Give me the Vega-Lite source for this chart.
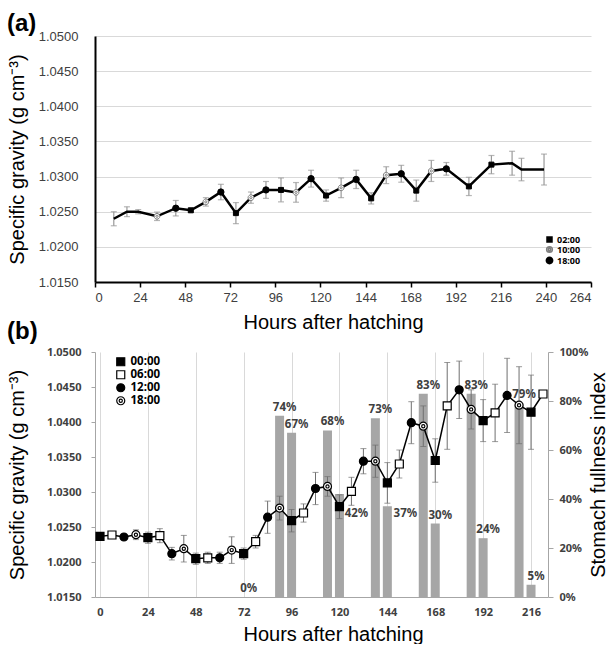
{
  "$schema": "https://vega.github.io/schema/vega-lite/v6.json",
  "padding": {"left": 6, "top": 12, "right": 0, "bottom": 0},
  "background": "white",
  "config": {"view": {"stroke": null}, "font": "Liberation Sans"},
  "bounds": "flush",
  "spacing": 70,
  "resolve": {
    "scale": {"shape": "independent", "fill": "independent", "stroke": "independent", "size": "independent"},
    "legend": {"shape": "independent", "fill": "independent", "stroke": "independent", "size": "independent"}
  },
  "datasets": {
    "a": [
      {"hour": 10, "sg": 1.0240, "err": 0.0010, "time": null},
      {"hour": 17, "sg": 1.0250, "err": 0.0007, "time": null},
      {"hour": 23, "sg": 1.0250, "err": 0.0003, "time": null},
      {"hour": 33, "sg": 1.02435, "err": 0.0006, "time": "10:00"},
      {"hour": 43, "sg": 1.0255, "err": 0.0011, "time": "18:00"},
      {"hour": 51, "sg": 1.0252, "err": 0.0003, "time": "02:00"},
      {"hour": 59, "sg": 1.0264, "err": 0.0006, "time": "10:00"},
      {"hour": 67, "sg": 1.0278, "err": 0.0011, "time": "18:00"},
      {"hour": 75, "sg": 1.0248, "err": 0.0015, "time": "02:00"},
      {"hour": 83, "sg": 1.0270, "err": 0.0008, "time": "10:00"},
      {"hour": 91, "sg": 1.0281, "err": 0.0012, "time": "18:00"},
      {"hour": 99, "sg": 1.0281, "err": 0.0017, "time": "02:00"},
      {"hour": 107, "sg": 1.02775, "err": 0.0014, "time": "10:00"},
      {"hour": 115, "sg": 1.0297, "err": 0.0012, "time": "18:00"},
      {"hour": 123, "sg": 1.0273, "err": 0.0008, "time": "02:00"},
      {"hour": 131, "sg": 1.0284, "err": 0.0014, "time": "10:00"},
      {"hour": 139, "sg": 1.0296, "err": 0.0013, "time": "18:00"},
      {"hour": 147, "sg": 1.0269, "err": 0.0008, "time": "02:00"},
      {"hour": 155, "sg": 1.0302, "err": 0.0012, "time": "10:00"},
      {"hour": 163, "sg": 1.0304, "err": 0.0012, "time": "18:00"},
      {"hour": 171, "sg": 1.0280, "err": 0.0015, "time": "02:00"},
      {"hour": 179, "sg": 1.0308, "err": 0.0015, "time": "10:00"},
      {"hour": 187, "sg": 1.0311, "err": 0.0009, "time": "18:00"},
      {"hour": 199, "sg": 1.0286, "err": 0.0013, "time": "02:00"},
      {"hour": 211, "sg": 1.0317, "err": 0.0013, "time": "02:00"},
      {"hour": 222, "sg": 1.0319, "err": 0.0017, "time": null},
      {"hour": 227, "sg": 1.0310, "err": 0.0016, "time": null},
      {"hour": 239, "sg": 1.0310, "err": 0.0022, "time": null}
    ],
    "b": [
      {"hour": 0, "sg": 1.02366, "err": 0.0003, "clock": "00:00"},
      {"hour": 6, "sg": 1.02386, "err": 0.0003, "clock": "06:00"},
      {"hour": 12, "sg": 1.02357, "err": 0.0003, "clock": "12:00"},
      {"hour": 18, "sg": 1.0239, "err": 0.0007, "clock": "18:00"},
      {"hour": 24, "sg": 1.02347, "err": 0.0008, "clock": "00:00"},
      {"hour": 30, "sg": 1.02376, "err": 0.0010, "clock": "06:00"},
      {"hour": 36, "sg": 1.02119, "err": 0.0009, "clock": "12:00"},
      {"hour": 42, "sg": 1.0219, "err": 0.0019, "clock": "18:00"},
      {"hour": 48, "sg": 1.02047, "err": 0.0008, "clock": "00:00"},
      {"hour": 54, "sg": 1.0206, "err": 0.0008, "clock": "06:00"},
      {"hour": 60, "sg": 1.0206, "err": 0.0008, "clock": "12:00"},
      {"hour": 66, "sg": 1.0217, "err": 0.0019, "clock": "18:00"},
      {"hour": 72, "sg": 1.0212, "err": 0.0008, "clock": "00:00"},
      {"hour": 78, "sg": 1.0229, "err": 0.0009, "clock": "06:00"},
      {"hour": 84, "sg": 1.0264, "err": 0.0023, "clock": "12:00"},
      {"hour": 90, "sg": 1.0277, "err": 0.0017, "clock": "18:00"},
      {"hour": 96, "sg": 1.0259, "err": 0.0016, "clock": "00:00"},
      {"hour": 102, "sg": 1.0270, "err": 0.0013, "clock": "06:00"},
      {"hour": 108, "sg": 1.0305, "err": 0.0023, "clock": "12:00"},
      {"hour": 114, "sg": 1.0308, "err": 0.0014, "clock": "18:00"},
      {"hour": 120, "sg": 1.0279, "err": 0.0017, "clock": "00:00"},
      {"hour": 126, "sg": 1.0301, "err": 0.0020, "clock": "06:00"},
      {"hour": 132, "sg": 1.0344, "err": 0.0018, "clock": "12:00"},
      {"hour": 138, "sg": 1.0344, "err": 0.0023, "clock": "18:00"},
      {"hour": 144, "sg": 1.0313, "err": 0.0029, "clock": "00:00"},
      {"hour": 150, "sg": 1.0340, "err": 0.0020, "clock": "06:00"},
      {"hour": 156, "sg": 1.0399, "err": 0.0030, "clock": "12:00"},
      {"hour": 162, "sg": 1.0394, "err": 0.0029, "clock": "18:00"},
      {"hour": 168, "sg": 1.0345, "err": 0.0031, "clock": "00:00"},
      {"hour": 174, "sg": 1.0423, "err": 0.0062, "clock": "06:00"},
      {"hour": 180, "sg": 1.0446, "err": 0.0041, "clock": "12:00"},
      {"hour": 186, "sg": 1.0418, "err": 0.0028, "clock": "18:00"},
      {"hour": 192, "sg": 1.0402, "err": 0.0030, "clock": "00:00"},
      {"hour": 198, "sg": 1.0413, "err": 0.0041, "clock": "06:00"},
      {"hour": 204, "sg": 1.0438, "err": 0.0053, "clock": "12:00"},
      {"hour": 210, "sg": 1.0424, "err": 0.0055, "clock": "18:00"},
      {"hour": 216, "sg": 1.0414, "err": 0.0053, "clock": "00:00"},
      {"hour": 222, "sg": 1.0440, "err": 0.0, "clock": "06:00"}
    ],
    "bars": [
      {"hour": 72, "pct": 0},
      {"hour": 90, "pct": 0.74},
      {"hour": 96, "pct": 0.67},
      {"hour": 114, "pct": 0.68},
      {"hour": 120, "pct": 0.42},
      {"hour": 138, "pct": 0.73},
      {"hour": 144, "pct": 0.37},
      {"hour": 162, "pct": 0.83},
      {"hour": 168, "pct": 0.30},
      {"hour": 186, "pct": 0.83},
      {"hour": 192, "pct": 0.24},
      {"hour": 210, "pct": 0.79},
      {"hour": 216, "pct": 0.05}
    ]
  },
  "vconcat": [
    {
      "width": 496,
      "height": 246,
      "title": {"text": "(a)", "anchor": "start", "frame": "bounds", "fontSize": 24, "fontWeight": "bold", "font": "Liberation Sans", "color": "black", "offset": -6},
      "data": {"name": "a"},
      "encoding": {
        "x": {"field": "hour", "type": "quantitative", "scale": {"domain": [0, 264], "nice": false},
          "axis": {"values": [0, 24, 48, 72, 96, 120, 144, 168, 192, 216, 240, 264], "title": "Hours after hatching", "grid": false,
            "domainColor": "black", "domainWidth": 2, "tickColor": "black", "tickWidth": 1.5, "tickSize": 5,
            "labelFont": "Liberation Sans", "labelFontSize": 13, "labelColor": "#404040", "labelPadding": 4,
            "titleFont": "Liberation Sans", "titleFontSize": 20, "titleFontWeight": "normal", "titleColor": "black", "titlePadding": 8, "titleX": 238}},
        "y": {"field": "sg", "type": "quantitative", "scale": {"domain": [1.015, 1.05], "nice": false, "zero": false},
          "axis": {"values": [1.015, 1.02, 1.025, 1.03, 1.035, 1.04, 1.045, 1.05], "format": ".4f", "title": "Specific gravity (g cm⁻³)",
            "grid": true, "gridColor": "#d9d9d9", "gridWidth": 1, "domainColor": "black", "domainWidth": 2, "ticks": false,
            "labelFont": "Liberation Sans", "labelFontSize": 13, "labelColor": "#404040", "labelPadding": 17,
            "titleFont": "Liberation Sans", "titleFontSize": 20, "titleFontWeight": "normal", "titleColor": "black", "titleX": -78, "titleBaseline": "middle"}}
      },
      "layer": [
        {"mark": {"type": "errorbar", "color": "#999999", "thickness": 1.2, "ticks": {"size": 6}},
         "encoding": {"yError": {"field": "err"}}},
        {"mark": {"type": "line", "color": "black", "strokeWidth": 2.5}, "encoding": {}},
        {"transform": [{"filter": "isValid(datum.time)"}],
         "mark": {"type": "point", "filled": true, "opacity": 1, "strokeWidth": 1},
         "encoding": {
           "shape": {"field": "time", "type": "nominal", "scale": {"domain": ["02:00", "10:00", "18:00"], "range": ["square", "M1,0A1,1,0,1,1,-1,0A1,1,0,1,1,1,0ZM0.4,0A0.4,0.4,0,1,1,-0.4,0A0.4,0.4,0,1,1,0.4,0Z", "circle"]},
             "legend": {"orient": "none", "legendX": 450, "legendY": 199, "title": null, "labelFont": "Noto Sans", "labelFontWeight": "bold", "labelFontSize": 9, "labelColor": "black", "rowPadding": -3, "labelOffset": 3}},
           "fill": {"field": "time", "type": "nominal", "scale": {"domain": ["02:00", "10:00", "18:00"], "range": ["black", "white", "black"]},
             "legend": {"orient": "none", "legendX": 450, "legendY": 199, "title": null, "labelFont": "Noto Sans", "labelFontWeight": "bold", "labelFontSize": 9, "labelColor": "black", "rowPadding": -3, "labelOffset": 3}},
           "stroke": {"field": "time", "type": "nominal", "scale": {"domain": ["02:00", "10:00", "18:00"], "range": ["black", "#7f7f7f", "black"]},
             "legend": {"orient": "none", "legendX": 450, "legendY": 199, "title": null, "labelFont": "Noto Sans", "labelFontWeight": "bold", "labelFontSize": 9, "labelColor": "black", "rowPadding": -3, "labelOffset": 3}},
           "size": {"field": "time", "type": "nominal", "scale": {"domain": ["02:00", "10:00", "18:00"], "range": [25, 40, 36]},
             "legend": {"orient": "none", "legendX": 450, "legendY": 199, "title": null, "labelFont": "Noto Sans", "labelFontWeight": "bold", "labelFontSize": 9, "labelColor": "black", "rowPadding": -3, "labelOffset": 3}}
         }}
      ]
    },
    {
      "width": 453,
      "height": 245,
      "title": {"text": "(b)", "anchor": "start", "frame": "bounds", "fontSize": 24, "fontWeight": "bold", "font": "Liberation Sans", "color": "black", "offset": 2},
      "encoding": {
        "x": {"field": "hour", "type": "quantitative", "scale": {"domain": [0, 222], "nice": false},
          "axis": {"values": [0, 24, 48, 72, 96, 120, 144, 168, 192, 216], "title": "Hours after hatching",
            "grid": true, "gridColor": "#d9d9d9", "gridWidth": 1, "domainColor": "#a6a6a6", "domainWidth": 1, "ticks": false,
            "labelFont": "Noto Sans", "labelFontWeight": "bold", "labelFontSize": 11, "labelColor": "#404040", "labelPadding": 9,
            "titleFont": "Liberation Sans", "titleFontSize": 20, "titleFontWeight": "normal", "titleColor": "black", "titlePadding": 7, "titleX": 238}}
      },
      "layer": [
        {
          "data": {"name": "bars"},
          "encoding": {
            "y": {"field": "pct", "type": "quantitative", "scale": {"domain": [0, 1], "nice": false},
              "axis": {"orient": "right", "values": [0, 0.2, 0.4, 0.6, 0.8, 1], "format": ".0%", "title": "Stomach fullness index",
                "grid": false, "domainColor": "#a6a6a6", "tickColor": "#a6a6a6", "tickSize": 5, "labelPadding": 6,
                "labelFont": "Noto Sans", "labelFontWeight": "bold", "labelFontSize": 11, "labelColor": "#404040",
                "titleFont": "Liberation Sans", "titleFontSize": 20, "titleFontWeight": "normal", "titleColor": "black", "titleAngle": 270, "titleX": 50, "titleBaseline": "middle"}}
          },
          "layer": [
            {"mark": {"type": "bar", "color": "#a6a6a6", "size": 9}, "encoding": {}},
            {"transform": [{"filter": "datum.hour != 120 && datum.hour != 144"}],
             "mark": {"type": "text", "dx": 5, "dy": -8, "font": "Noto Sans", "fontWeight": "bold", "fontSize": 11.5, "color": "#404040"},
             "encoding": {"text": {"field": "pct", "type": "quantitative", "format": ".0%"}}},
            {"transform": [{"filter": "datum.hour == 120"}],
             "mark": {"type": "text", "dx": 17, "dy": 20, "font": "Noto Sans", "fontWeight": "bold", "fontSize": 11.5, "color": "#404040"},
             "encoding": {"text": {"field": "pct", "type": "quantitative", "format": ".0%"}}},
            {"transform": [{"filter": "datum.hour == 144"}],
             "mark": {"type": "text", "dx": 18, "dy": 8, "font": "Noto Sans", "fontWeight": "bold", "fontSize": 11.5, "color": "#404040"},
             "encoding": {"text": {"field": "pct", "type": "quantitative", "format": ".0%"}}}
          ]
        },
        {
          "data": {"name": "b"},
          "encoding": {
            "y": {"field": "sg", "type": "quantitative", "scale": {"domain": [1.015, 1.05], "nice": false, "zero": false},
              "axis": {"orient": "left", "values": [1.015, 1.02, 1.025, 1.03, 1.035, 1.04, 1.045, 1.05], "format": ".4f", "title": "Specific gravity (g cm⁻³)",
                "grid": false, "domainColor": "#a6a6a6", "tickColor": "#a6a6a6", "tickSize": 4, "labelPadding": 10,
                "labelFont": "Noto Sans", "labelFontWeight": "bold", "labelFontSize": 11, "labelColor": "#404040",
                "titleFont": "Liberation Sans", "titleFontSize": 20, "titleFontWeight": "normal", "titleColor": "black", "titleX": -78, "titleBaseline": "middle"}}
          },
          "layer": [
            {"mark": {"type": "errorbar", "color": "#6f6f6f", "thickness": 1, "ticks": {"size": 6}},
             "encoding": {"yError": {"field": "err"}}},
            {"mark": {"type": "line", "color": "black", "strokeWidth": 1.5}, "encoding": {}},
            {"mark": {"type": "point", "filled": true, "opacity": 1, "strokeWidth": 1.2},
             "encoding": {
               "shape": {"field": "clock", "type": "nominal", "scale": {"domain": ["00:00", "06:00", "12:00", "18:00"], "range": ["square", "square", "circle", "M1,0A1,1,0,1,1,-1,0A1,1,0,1,1,1,0ZM0.4,0A0.4,0.4,0,1,1,-0.4,0A0.4,0.4,0,1,1,0.4,0Z"]},
                 "legend": {"orient": "none", "legendX": 20, "legendY": 4, "title": null, "labelFont": "Noto Sans", "labelFontWeight": "bold", "labelFontSize": 11.5, "labelColor": "black", "rowPadding": -2, "labelOffset": 4, "symbolStrokeWidth": 1.2}},
               "fill": {"field": "clock", "type": "nominal", "scale": {"domain": ["00:00", "06:00", "12:00", "18:00"], "range": ["black", "white", "black", "white"]},
                 "legend": {"orient": "none", "legendX": 20, "legendY": 4, "title": null, "labelFont": "Noto Sans", "labelFontWeight": "bold", "labelFontSize": 11.5, "labelColor": "black", "rowPadding": -2, "labelOffset": 4, "symbolStrokeWidth": 1.2}},
               "stroke": {"field": "clock", "type": "nominal", "scale": {"domain": ["00:00", "06:00", "12:00", "18:00"], "range": ["black", "black", "black", "black"]},
                 "legend": {"orient": "none", "legendX": 20, "legendY": 4, "title": null, "labelFont": "Noto Sans", "labelFontWeight": "bold", "labelFontSize": 11.5, "labelColor": "black", "rowPadding": -2, "labelOffset": 4, "symbolStrokeWidth": 1.2}},
               "size": {"field": "clock", "type": "nominal", "scale": {"domain": ["00:00", "06:00", "12:00", "18:00"], "range": [64, 64, 90, 95]},
                 "legend": {"orient": "none", "legendX": 20, "legendY": 4, "title": null, "labelFont": "Noto Sans", "labelFontWeight": "bold", "labelFontSize": 11.5, "labelColor": "black", "rowPadding": -2, "labelOffset": 4, "symbolStrokeWidth": 1.2}}
             }}
          ]
        }
      ],
      "resolve": {"scale": {"y": "independent"}}
    }
  ]
}
